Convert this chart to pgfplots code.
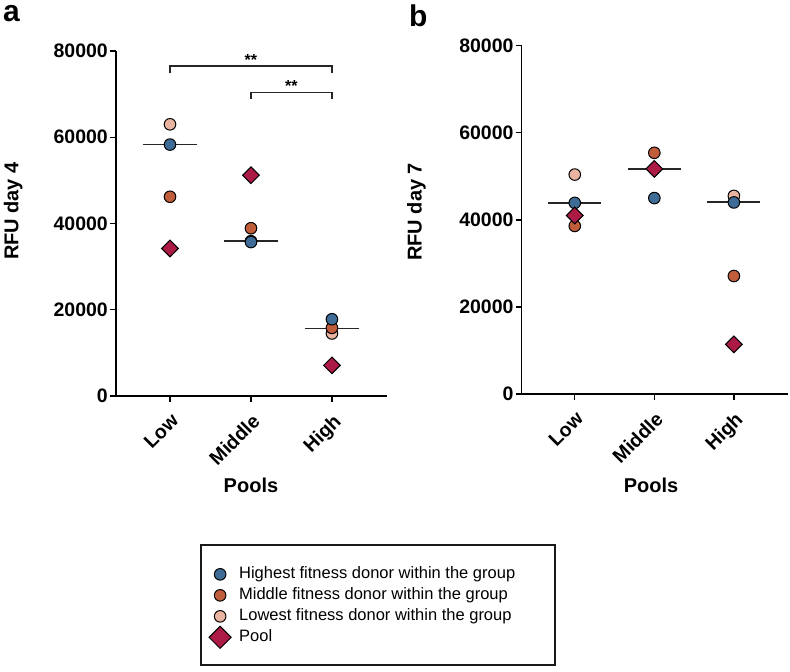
\documentclass[border=0pt]{standalone}
\usepackage{pgfplots}
\pgfplotsset{compat=1.18}
\usepackage{fontspec}
\setmainfont{Liberation Sans}
\definecolor{cblue}{RGB}{62,108,150}
\definecolor{corange}{RGB}{192,94,60}
\definecolor{cpink}{RGB}{234,180,162}
\definecolor{cpool}{RGB}{171,27,70}
\pgfplotsset{
  myaxis/.style={
    scale only axis,
    xmin=-0.667, xmax=2.68,
    ymin=0, ymax=80000,
    axis x line*=bottom, axis y line*=left,
    axis line style={line width=1.4pt, black},
    tick style={line width=1.4pt, black},
    major tick length=6pt,
    tick align=outside,
    xtick={0,1,2}, xticklabels={Low,Middle,High},
    ytick={0,20000,40000,60000,80000},
    scaled y ticks=false,
    /pgf/number format/1000 sep={},
    /pgf/number format/assume math mode=true,
    ticklabel style={font=\bfseries\fontsize{19.5}{21}\selectfont},
    xticklabel style={rotate=45, anchor=north east, inner sep=1pt},
    xticklabel shift=9pt,
    yticklabel style={inner sep=2pt},
    label style={font=\bfseries\fontsize{20}{22}\selectfont},
    clip=false,
  },
  pt/.style={only marks, mark=*, mark size=5.8pt, mark options={draw=black, line width=1pt}},
  dm/.style={only marks, mark=square*, mark size=5.9pt, mark options={draw=black, line width=1pt, rotate=45}},
  med/.style={black!85, line width=1.5pt, forget plot},
  brk/.style={black!85, line width=1.2pt, forget plot},
}
\begin{document}
\begin{tikzpicture}
\path[use as bounding box] (0,0) rectangle (790pt,672pt);
% Panel a
\begin{axis}[myaxis,
  at={(116pt,276pt)}, anchor=south west,
  width=271pt, height=345pt,
  xlabel={Pools}, ylabel={RFU day 4},
  xlabel style={at={(axis description cs:0.498,-0.281)}, anchor=base},
  ylabel style={at={(axis description cs:-0.360,0.536)}, anchor=base, rotate=0},
  legend style={draw=none, fill=none, at={(axis description cs:0.343,-0.494)}, anchor=north west,
    font=\fontsize{16.5}{18}\selectfont, nodes={inner sep=0pt, text height=12pt, text depth=4pt, anchor=base west},
    row sep=5pt, column sep=8pt, inner sep=0pt},
  legend cell align=left,
  legend image code/.code={\path[draw=none, fill=none] (-11pt,-4pt) rectangle (11pt,12pt); \draw[#1, overlay] plot coordinates {(0pt,4.3pt)};},
]
\addlegendimage{pt, fill=cblue}
\addlegendentry{Highest fitness donor within the group}
\addlegendimage{pt, fill=corange}
\addlegendentry{Middle fitness donor within the group}
\addlegendimage{pt, fill=cpink}
\addlegendentry{Lowest fitness donor within the group}
\addlegendimage{only marks, mark=square*, mark size=7.8pt, mark options={draw=black, line width=1pt, rotate=45, fill=cpool}}
\addlegendentry{Pool}
% medians
\addplot[med] coordinates {(-0.333,58300) (0.333,58300)};
\addplot[med] coordinates {(0.667,35900) (1.333,35900)};
\addplot[med] coordinates {(1.667,15700) (2.333,15700)};
% significance brackets
\addplot[brk] coordinates {(0,75000) (0,76500) (2,76500) (2,75000)};
\addplot[brk] coordinates {(1,68900) (1,70400) (2,70400) (2,68900)};
\node[anchor=base, inner sep=0pt, font=\bfseries\fontsize{16}{18}\selectfont] at (axis cs:1,76700) {**};
\node[anchor=base, inner sep=0pt, font=\bfseries\fontsize{16}{18}\selectfont] at (axis cs:1.5,70600) {**};
% data
\addplot[pt, fill=cpink, forget plot] coordinates {(0,63000) (1,35900) (2,14500)};
\addplot[pt, fill=corange, forget plot] coordinates {(0,46200) (1,38900) (2,15800)};
\addplot[pt, fill=cblue, forget plot] coordinates {(0,58300) (1,35700) (2,17800)};
\addplot[dm, fill=cpool, forget plot] coordinates {(0,34200) (1,51200) (2,7100)};
\end{axis}
% Panel b
\begin{axis}[myaxis,
  at={(521.7pt,278pt)}, anchor=south west,
  width=266.3pt, height=348.3pt,
  xlabel={Pools}, ylabel={RFU day 7},
  xlabel style={at={(axis description cs:0.486,-0.284)}, anchor=base},
  ylabel style={at={(axis description cs:-0.376,0.523)}, anchor=base, rotate=0},
]
\addplot[med] coordinates {(-0.333,43900) (0.333,43900)};
\addplot[med] coordinates {(0.667,51700) (1.333,51700)};
\addplot[med] coordinates {(1.667,44100) (2.333,44100)};
\addplot[pt, fill=cpink] coordinates {(0,50400) (1,51700) (2,45500)};
\addplot[pt, fill=corange] coordinates {(0,38600) (1,55400) (2,27100)};
\addplot[pt, fill=cblue] coordinates {(0,43900) (1,45000) (2,44000)};
\addplot[dm, fill=cpool] coordinates {(0,41000) (1,51700) (2,11400)};
\end{axis}
% legend box
\draw[line width=1.2pt, black!90] (201pt,7pt) rectangle (555pt,127pt);
% panel letters
\node[anchor=base west, inner sep=0pt, font=\bfseries\fontsize{30}{32}\selectfont] at (3pt,650pt) {a};
\node[anchor=base west, inner sep=0pt, font=\bfseries\fontsize{30}{32}\selectfont] at (409pt,645pt) {b};
\end{tikzpicture}
\end{document}
